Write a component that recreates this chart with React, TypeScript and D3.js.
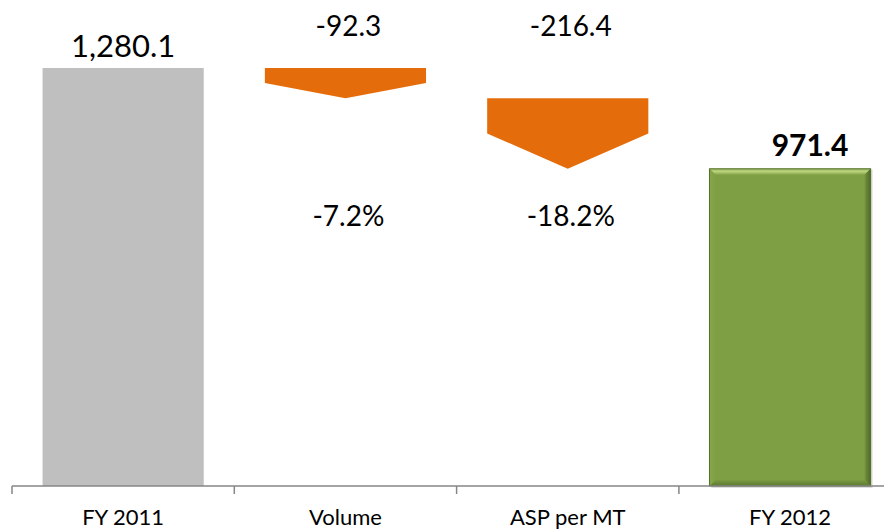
import React from "react";
import * as d3 from "d3";

const categories = ["FY 2011", "Volume", "ASP per MT", "FY 2012"];
const kinds = ["total", "delta", "delta", "total"];
const values = [1280.1, -92.3, -216.4, 971.4];
const valueLabels = ["1,280.1", "-92.3", "-216.4", "971.4"];
const pctLabels = ["", "-7.2%", "-18.2%", ""];

const W = 884;
const H = 532;
const FONT = "Lato, 'Open Sans', sans-serif";

export default function App() {
  const x = d3
    .scaleBand<string>()
    .domain(categories)
    .range([12, 12 + 4 * 222.3])
    .paddingInner(0.275)
    .paddingOuter(0.1375);
  const y = d3.scaleLinear().domain([0, 1280.1]).range([486, 68]);

  let running = 0;
  const bars = categories.map((c, i) => {
    const v = values[i];
    let top: number, bottom: number;
    if (kinds[i] === "total") {
      running = v;
      top = v;
      bottom = 0;
    } else {
      top = running;
      bottom = running + v;
      running = bottom;
    }
    return { c, i, v, top, bottom, kind: kinds[i] };
  });

  const bw = x.bandwidth();
  const step = x.step();
  const ticks = d3.range(categories.length + 1).map((k) => 12 + k * step);

  return (
    <svg
      width={W}
      height={H}
      style={{ position: "absolute", left: 0, top: 0, background: "#fff" }}
      fontFamily={FONT}
    >
      <defs>
        <linearGradient id="gTop" x1="0" y1="0" x2="0" y2="1">
          <stop offset="0" stopColor="#9dba5e" />
          <stop offset="0.45" stopColor="#b9d27c" />
          <stop offset="1" stopColor="#86a64b" />
        </linearGradient>
        <linearGradient id="gRight" x1="0" y1="0" x2="1" y2="0">
          <stop offset="0" stopColor="#74933e" />
          <stop offset="1" stopColor="#4e6826" />
        </linearGradient>
        <linearGradient id="gBottom" x1="0" y1="0" x2="0" y2="1">
          <stop offset="0" stopColor="#7a9a42" />
          <stop offset="1" stopColor="#5d7a2e" />
        </linearGradient>
        <linearGradient id="gLeft" x1="0" y1="0" x2="1" y2="0">
          <stop offset="0" stopColor="#86a64c" />
          <stop offset="1" stopColor="#80a046" />
        </linearGradient>
      </defs>

      {bars.map((b) => {
        const x0 = x(b.c)!;
        const x1 = x0 + bw;
        const cx = x0 + bw / 2;
        if (b.kind === "delta") {
          const y0 = y(b.top);
          const y1 = y(b.bottom);
          const mid = (y0 + y1) / 2;
          const pts = [
            [x0, y0],
            [x1, y0],
            [x1, mid],
            [cx, y1],
            [x0, mid],
          ];
          return (
            <polygon
              key={b.c}
              points={pts.map((p) => p.join(",")).join(" ")}
              fill="#e46c0a"
            />
          );
        }
        const yt = y(b.top);
        const yb = y(b.bottom);
        if (b.i === 0) {
          return <rect key={b.c} x={x0} y={yt} width={bw} height={yb - yt} fill="#bfbfbf" />;
        }
        const bv = 6;
        return (
          <g key={b.c}>
            <rect x={x0 + 2} y={yt + 1} width={bw} height={yb - yt + 1} fill="#c8c8c8" opacity={0.6} />
            <rect x={x0} y={yt} width={bw} height={yb - yt} fill="#7f9f45" />
            <polygon
              points={`${x0},${yt} ${x1},${yt} ${x1 - bv},${yt + bv} ${x0 + bv},${yt + bv}`}
              fill="url(#gTop)"
            />
            <polygon
              points={`${x1},${yt} ${x1},${yb} ${x1 - bv},${yb - bv} ${x1 - bv},${yt + bv}`}
              fill="url(#gRight)"
            />
            <polygon
              points={`${x0},${yb} ${x1},${yb} ${x1 - bv},${yb - bv} ${x0 + bv},${yb - bv}`}
              fill="url(#gBottom)"
            />
            <polygon
              points={`${x0},${yt} ${x0 + bv},${yt + bv} ${x0 + bv},${yb - bv} ${x0},${yb}`}
              fill="url(#gLeft)"
            />
            <rect x={x0} y={yt} width={bw} height={yb - yt} fill="none" stroke="#556f2a" strokeWidth={1} />
          </g>
        );
      })}

      <line x1={12} x2={W} y1={486} y2={486} stroke="#868686" strokeWidth={1.5} />
      {ticks.map((t) => (
        <line key={t} x1={t} x2={t} y1={486} y2={494} stroke="#868686" strokeWidth={1.5} />
      ))}
      {categories.map((c) => (
        <text
          key={c}
          x={x(c)! + bw / 2}
          y={525}
          textAnchor="middle"
          fontSize={22}
          fill="#000"
        >
          {c}
        </text>
      ))}

      {bars.map((b) => {
        const cx = x(b.c)! + bw / 2;
        if (b.kind === "total") {
          const bold = b.i === categories.length - 1;
          return (
            <text
              key={"v" + b.c}
              x={cx + (bold ? 20 : 0)}
              y={y(b.top) - (bold ? 13 : 11)}
              textAnchor="middle"
              fontSize={bold ? 30 : 31}
              fontWeight={bold ? 700 : 400}
              fill="#000"
            >
              {valueLabels[b.i]}
            </text>
          );
        }
        return (
          <g key={"v" + b.c}>
            <text x={cx + 3} y={36} textAnchor="middle" fontSize={28} fill="#000">
              {valueLabels[b.i]}
            </text>
            <text x={cx + 3} y={226} textAnchor="middle" fontSize={28} fill="#000">
              {pctLabels[b.i]}
            </text>
          </g>
        );
      })}
    </svg>
  );
}
